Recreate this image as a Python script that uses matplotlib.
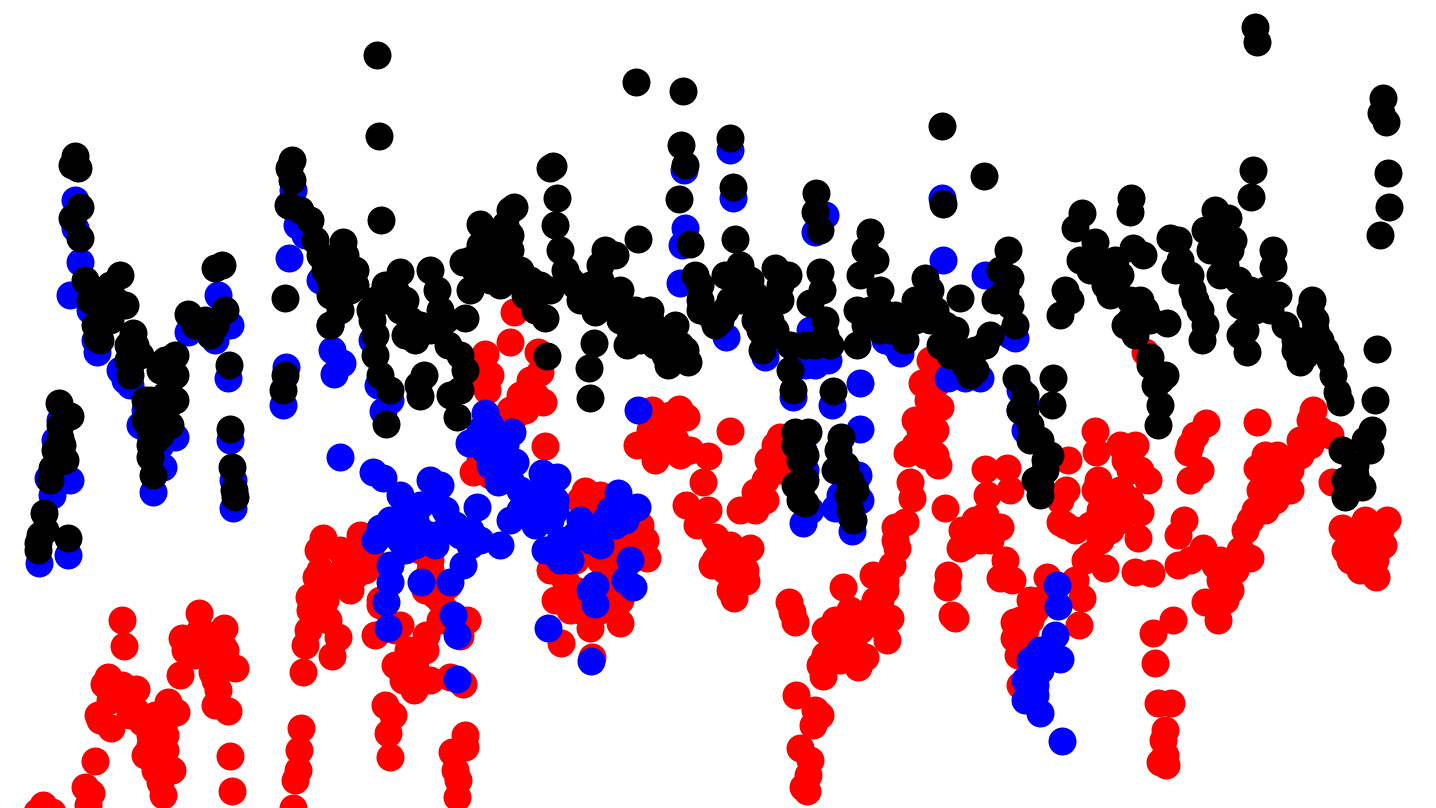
import matplotlib
matplotlib.use("Agg")
import matplotlib.pyplot as plt

# values
red_x = [43,37,52,85,91,88,95,122,124,108,104,122,136,98,111,125,135,142,155,168,176,150,165,152,165,155,172,160,163,
         199,182,190,205,224,222,180,235,212,215,228,218,230,232,293,295,298,299,301,303,305,308,309,316,318,323,
         325,335,350,345,355,360,370,332,338,328,375,380,395,408,400,426,425,415,403,414,430,450,463,467,460,440,448,430,420,385,393,388,390,465,465,452,455,458,457,
         514,510,485,487,480,538,540,528,520,543,515,545,505,473,485,
         585,600,625,640,645,647,612,610,620,620,590,561,592,555,570,550,575,590,600,
         652,679,686,637,655,670,660,690,708,703,686,708,697,715,740,755,768,780,730,765,750,735,712,725,746,734,738,775,790,
         789,792,795,843,873,892,885,890,887,880,875,825,835,850,845,820,823,840,858,865,796,815,820,813,800,810,808,803,807,
         895,905,897,907,925,915,922,940,930,935,928,938,912,910,945,948,947,952,955,960,962,985,1007,987,1010,1000,985,990,1005,1000,1012,
         1014,1014,1018,1030,1020,1047,1060,1068,1066,1095,1096,1098,1095,1100,1085,1105,1075,1082,1079,1120,1135,1140,1148,1130,1140,1110,1138,1135,1151,1153,1173,1155,1158,1171,1165,1163,1165,1160,1166,1145,
         1206,1188,1200,1190,1184,1178,1178,1203,1215,1205,1218,1230,1250,1245,1255,1265,1257,1257,1265,1277,1290,1300,1313,1310,1330,1332,1342,1345,1360,1376,1365,1387,1383,1370,
         110,130,150,155,150,145,158,100,165,185,200,215,210,195,225,215,
         310,320,315,330,345,360,365,340,355,320,430,425,435,420,445,440,380,395,410,420,
         480,490,530,535,525,510,480,490,555,565,575,600,615,630,625,615,600,605,610,580,590,580,595,
         650,665,650,675,680,670,660,720,730,715,725,740,745,730,755,765,780,775,790,
         835,845,850,855,830,825,860,870,880,885,895,920,925,930,935,920,925,935,915,970,975,965,980,
         1020,1025,1020,1030,1035,1040,1060,1065,1075,1090,1100,1110,1120,1120,1130,1125,1115,1100,1090,
         1190,1195,1190,1220,1225,1215,1220,1235,1240,1250,1260,1275,1285,1270,1260,1280,1300,1310,1320,1290,1275,1350,1365,1375,1380,1360]
red_y = [805,812,812,787,793,805,761,620,646,677,684,685,689,715,728,700,710,722,715,702,712,735,735,755,750,770,770,782,795,
         613,638,650,640,628,645,675,668,672,705,711,690,756,791,808,780,770,750,728,672,645,630,597,577,550,538,
         600,585,590,565,575,535,550,656,637,620,635,605,665,650,625,635,650,668,680,690,680,677,684,620,636,600,585,570,550,705,715,733,757,735,747,752,770,780,797,
         312,342,354,390,370,352,372,390,395,402,415,446,430,472,470,
         491,495,515,525,540,558,545,570,600,623,628,643,657,600,610,570,560,590,610,
         410,409,417,445,460,445,430,450,456,482,505,510,525,537,510,492,460,437,431,480,548,560,565,570,581,598,575,465,450,
         602,612,622,587,575,565,580,618,640,625,600,630,620,610,640,665,676,660,667,657,695,710,715,725,748,760,775,787,791,
         527,522,548,453,440,420,383,407,360,385,400,465,498,482,508,575,587,615,618,548,530,469,468,495,490,527,515,540,560,578,580,
         622,638,655,600,685,577,522,460,490,431,452,480,490,510,560,568,580,598,625,445,445,470,480,500,512,515,538,572,573,633,620,663,703,703,730,740,755,762,765,352,
         423,452,470,480,520,535,565,548,565,602,620,590,558,530,510,510,422,468,455,455,490,440,410,420,435,482,528,550,570,577,520,520,545,535,
         700,715,725,740,745,755,720,720,720,650,630,650,660,655,650,680,
         610,600,615,580,585,560,570,550,550,570,560,590,595,540,610,620,600,630,672,680,
         380,375,380,395,410,410,460,475,565,580,590,510,520,545,535,555,560,590,600,610,600,500,510,
         430,425,445,440,455,415,450,550,545,560,555,560,570,590,510,500,470,445,440,
         640,650,630,650,650,655,630,610,600,590,540,430,420,415,430,450,455,455,445,530,520,545,540,
         620,630,645,620,610,600,500,525,530,525,530,530,520,490,470,460,500,540,555,
         445,435,560,580,600,605,560,570,550,520,490,475,480,490,470,465,455,445,430,470,500,560,555,560,530,540]

blue_x = [39,68,52,70,60,75,75,80,70,90,97,125,130,145,150,163,153,175,188,215,230,218,228,230,233,233,289,283,286,293,297,330,332,342,334,372,378,383,
          340,373,383,400,430,440,380,375,400,415,430,445,460,470,463,390,390,386,388,421,450,453,457,457,477,485,469,495,512,490,515,498,500,510,530,542,557,550,545,570,580,590,605,618,637,638,630,625,633,595,590,595,548,591,
          684,685,682,680,730,733,726,765,793,803,815,810,815,828,832,860,860,858,835,852,803,800,885,900,942,943,948,980,985,1015,1020,1025,1057,1058,1055,1060,1030,1040,1035,1025,1040,1062,
          390,405,420,435,420,405,415,435,445,455,480,470,520,530,540,555,535,555,560,565,575,595,615,610,625,500,505,480,490,485,510,520,560,600,
          1040,1035,1030,1045,1035,1050,1025,
          100,95,120,140,160,295,305,325,320,390,805,820,825,805,815,840,1020,1025,895,1010,975,965,825,810,853,860,850,60,55,48]
blue_y = [563,555,495,480,420,200,228,262,295,310,352,380,385,410,435,467,492,437,332,340,325,295,378,440,480,508,258,405,367,190,225,325,350,363,374,340,385,411,
          457,472,478,495,480,485,528,540,540,520,535,510,535,545,565,565,582,602,628,582,582,615,635,679,507,413,443,440,432,465,462,482,545,520,500,473,477,520,550,560,520,540,520,493,507,410,560,580,587,585,590,604,628,661,
          170,228,245,283,150,198,337,357,397,523,232,330,365,360,405,383,429,475,508,531,450,490,340,353,198,260,378,378,275,338,390,430,585,606,635,659,660,670,685,700,713,741,
          520,505,505,500,530,550,545,545,530,525,540,530,510,515,490,500,525,510,540,550,535,530,525,510,520,455,445,430,425,450,480,490,560,545,
          650,665,680,660,695,650,680,
          320,340,370,425,445,210,235,260,280,400,470,355,345,365,355,495,410,400,345,335,370,378,215,510,505,500,515,465,440,478]

black_x = [59,70,60,65,52,50,44,38,45,68,38,75,72,78,72,80,80,85,100,120,110,125,97,133,135,128,130,188,215,222,225,205,210,175,160,175,145,155,170,160,150,153,229,230,232,234,235,
           292,289,292,288,300,310,285,285,283,315,343,345,330,340,330,377,379,381,375,372,375,380,390,386,400,385,405,430,437,440,415,430,418,424,420,463,480,490,510,514,505,510,485,500,530,545,535,448,460,465,450,460,457,465,
           553,550,557,555,560,565,575,595,605,600,638,620,636,683,681,685,679,690,695,700,594,589,590,547,650,630,627,660,675,668,688,
           730,733,735,740,725,725,715,750,775,770,788,762,760,790,793,795,808,800,805,800,805,833,816,815,820,820,822,810,825,815,857,857,860,865,870,875,880,890,905,925,915,930,942,943,984,960,955,960,975,985,990,
           1008,1000,1010,1010,1015,995,1016,1025,1020,1030,1053,1052,1050,1045,1035,1040,1082,1075,1095,1080,1060,1065,1070,1090,1115,1130,1130,1131,1133,1143,1170,1178,1175,1140,1167,1150,1165,1155,1160,1158,
           1192,1200,1205,1202,1215,1205,1228,1233,1220,1238,1240,1245,1247,1273,1273,1255,1257,1253,1251,1260,1278,1312,1315,1320,1330,1333,1337,1340,1300,1295,1377,1375,1383,1381,1386,1388,1389,1380,1342,1372,1365,1370,1355,1345,1362,1345,
           95,90,105,115,95,110,100,135,130,140,128,150,160,150,165,145,170,165,175,165,155,150,55,60,62,40,195,215,
           320,325,335,345,355,330,350,355,370,385,395,400,375,410,420,440,445,405,
           470,475,490,470,505,515,520,490,510,500,480,525,540,550,570,585,590,605,615,600,615,580,635,645,650,640,655,665,680,685,620,
           700,700,710,720,730,740,745,755,760,755,770,775,765,780,780,790,805,830,825,880,880,870,865,885,900,895,915,930,935,945,940,950,965,975,970,1005,
           841,838,845,835,850,848,855,850,853,795,805,795,800,1025,1030,1040,1045,1040,
           1100,1105,1110,1120,1130,1125,1135,1145,1150,1105,1115,1150,1160,1180,1190,1195,1215,1210,1225,1230,1250,1255,1265,1270,1250,1240,1285,1295,1305,1315,1325,1310,1355,1350]
black_y = [403,416,438,460,468,480,513,543,530,538,550,156,165,168,218,207,238,280,300,275,285,305,338,333,350,360,375,314,268,265,310,320,335,355,370,400,400,420,425,435,457,475,365,429,467,490,497,
           160,168,180,205,210,220,298,375,390,240,242,255,295,310,325,55,136,220,335,320,355,375,390,424,272,285,300,270,290,310,340,330,385,375,396,262,224,240,210,207,225,250,265,285,280,318,310,345,355,370,395,390,417,318,
           166,168,198,225,250,270,285,312,250,265,239,290,82,91,145,165,199,244,275,300,343,368,398,356,310,330,345,340,325,365,362,
           138,187,239,265,275,310,325,280,268,300,275,350,330,370,390,432,432,460,480,490,503,391,193,212,230,272,290,303,320,345,345,310,275,250,232,260,290,330,340,278,300,290,126,204,176,298,330,350,370,345,335,
           250,270,278,305,325,300,378,395,410,440,378,405,455,470,480,495,213,228,242,260,315,290,300,270,285,320,212,198,248,255,238,240,270,300,323,357,375,385,405,425,
           290,310,325,340,210,230,218,240,275,280,305,330,352,250,267,27,42,170,197,300,295,300,320,340,360,375,392,402,362,340,349,400,98,113,122,173,207,235,450,430,440,450,475,480,487,497,
           325,300,310,300,290,320,340,345,365,355,345,400,410,430,410,420,380,360,375,395,440,445,450,425,445,535,325,325,
           255,270,265,275,270,280,290,285,310,300,290,310,300,320,325,325,320,335,
           290,270,280,260,270,280,270,255,235,245,245,295,285,290,280,295,285,290,300,280,255,300,310,325,320,340,345,355,345,350,320,
           285,310,315,320,300,300,285,295,310,320,320,330,340,300,285,345,345,345,335,310,330,310,325,320,330,315,320,320,310,325,345,355,365,350,375,290,
           437,450,465,470,480,495,490,510,520,445,455,485,500,410,425,440,460,485,
           260,285,295,275,300,325,335,310,320,270,260,365,380,260,275,300,235,250,265,250,290,310,290,310,300,335,325,350,355,330,350,310,465,490]

fig = plt.figure(figsize=(14.36, 8.08), dpi=100)
ax = fig.add_axes([0, 0, 1, 1])

size = 406  # dots are about 28 px across
ax.scatter(red_x, red_y, s=size, c="red", linewidths=0)
ax.scatter(blue_x, blue_y, s=size, c="blue", linewidths=0)
ax.scatter(black_x, black_y, s=size, c="black", linewidths=0)

ax.set_xlim(0, 1436)
ax.set_ylim(808, 0)
ax.axis("off")

fig.savefig("out.png", dpi=100)
